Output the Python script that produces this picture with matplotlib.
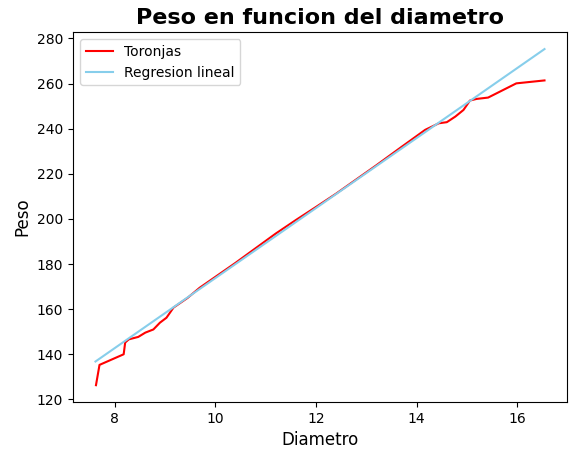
import numpy as np
import matplotlib.pyplot as plt

# Toronjas: diametro vs peso
diametro = [7.63, 7.70, 8.18, 8.21, 8.28, 8.47, 8.61, 8.77, 8.90, 9.03, 9.17,
            9.45, 9.69, 10.0, 10.4, 10.8, 11.2, 11.6, 12.0, 12.4, 12.8, 13.2,
            13.71, 14.17, 14.44, 14.60, 14.77, 14.93, 15.06, 15.19, 15.42,
            15.98, 16.54]
peso = [126.3, 135.3, 140.0, 145.2, 146.6, 147.7, 149.6, 151.0, 154.0, 156.2,
        160.7, 165.0, 169.5, 174.3, 180.5, 187.0, 193.5, 199.5, 205.3, 211.2,
        217.5, 223.8, 232.1, 239.5, 242.4, 242.9, 245.4, 248.3, 252.5, 253.2,
        253.8, 260.1, 261.4]

# regression line endpoints
reg_x = [7.62, 16.54]
reg_y = [136.8, 275.3]

fig, ax = plt.subplots(figsize=(5.75, 4.61), dpi=100)
fig.subplots_adjust(left=0.127, right=0.986, top=0.93, bottom=0.128)
ax.plot(diametro, peso, color='red', label='Toronjas')
ax.plot(reg_x, reg_y, color='skyblue', label='Regresion lineal')
ax.set_title('Peso en funcion del diametro', fontsize=16, fontweight='bold')
ax.set_xlabel('Diametro', fontsize=12)
ax.set_ylabel('Peso', fontsize=12)
ax.legend(loc='upper left')
plt.savefig('out.png')
